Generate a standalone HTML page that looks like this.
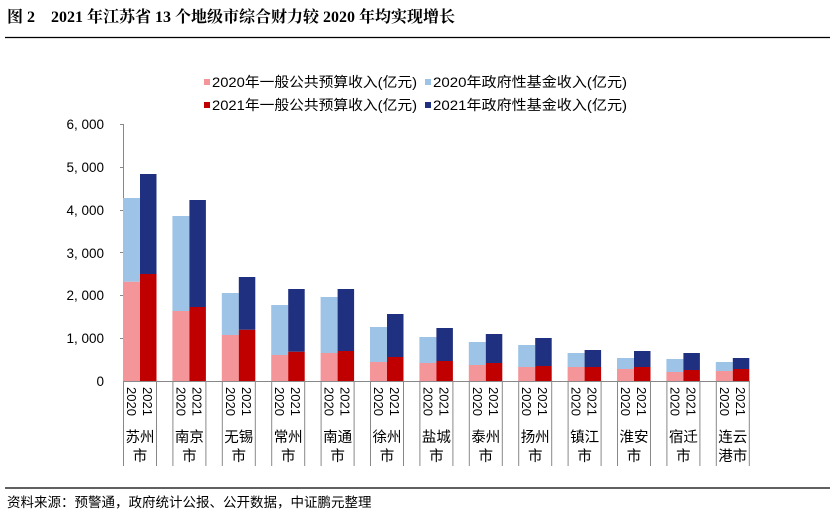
<!DOCTYPE html>
<html><head><meta charset="utf-8"><style>
body{margin:0;background:#fff;}
svg{display:block;}
</style></head><body>
<svg width="835" height="517" xmlns="http://www.w3.org/2000/svg" font-family="Liberation Sans, Noto Sans CJK SC, sans-serif">
<text x="7" y="22" font-family="Liberation Serif, Noto Serif CJK SC, serif" font-weight="bold" font-size="16" fill="#000">图 2　2021 年江苏省 13 个地级市综合财力较 2020 年均实现增长</text>
<line x1="5" y1="37.5" x2="830" y2="37.5" stroke="#000" stroke-width="1.3"/>
<g font-size="14" fill="#000">
<rect x="204" y="79" width="6" height="6" fill="#f4959a"/><text x="212" y="87" textLength="205" lengthAdjust="spacingAndGlyphs">2020年一般公共预算收入(亿元)</text>
<rect x="425" y="79" width="6" height="6" fill="#9dc3e6"/><text x="433" y="87" textLength="194" lengthAdjust="spacingAndGlyphs">2020年政府性基金收入(亿元)</text>
<rect x="204" y="102" width="6" height="6" fill="#c00000"/><text x="212" y="110" textLength="205" lengthAdjust="spacingAndGlyphs">2021年一般公共预算收入(亿元)</text>
<rect x="425" y="102" width="6" height="6" fill="#203080"/><text x="433" y="110" textLength="194" lengthAdjust="spacingAndGlyphs">2021年政府性基金收入(亿元)</text>
</g>
<g font-size="13.5" fill="#000" text-anchor="end">
<text x="104" y="129">6, 000</text><text x="104" y="172">5, 000</text><text x="104" y="215">4, 000</text>
<text x="104" y="258">3, 000</text><text x="104" y="300">2, 000</text><text x="104" y="343">1, 000</text><text x="104" y="386">0</text>
</g>
<line x1="123.5" y1="124" x2="123.5" y2="381" stroke="#888"/>
<g stroke="#888"><line x1="120" y1="124.5" x2="123" y2="124.5"/><line x1="120" y1="167.5" x2="123" y2="167.5"/><line x1="120" y1="210.5" x2="123" y2="210.5"/><line x1="120" y1="252.5" x2="123" y2="252.5"/><line x1="120" y1="295.5" x2="123" y2="295.5"/><line x1="120" y1="338.5" x2="123" y2="338.5"/></g>

<g transform="translate(123,0)"><rect x="0" y="281.7" width="17" height="99.3" fill="#f4959a"/><rect x="0" y="198" width="17" height="83.7" fill="#9dc3e6"/><rect x="17" y="274" width="16.5" height="107" fill="#c00000"/><rect x="17" y="174" width="16.5" height="100" fill="#203080"/></g>
<g transform="translate(172.4,0)"><rect x="0" y="311" width="17" height="70" fill="#f4959a"/><rect x="0" y="216" width="17" height="95" fill="#9dc3e6"/><rect x="17" y="307" width="16.5" height="74" fill="#c00000"/><rect x="17" y="200" width="16.5" height="107" fill="#203080"/></g>
<g transform="translate(221.8,0)"><rect x="0" y="335" width="17" height="46" fill="#f4959a"/><rect x="0" y="293" width="17" height="42" fill="#9dc3e6"/><rect x="17" y="329.7" width="16.5" height="51.3" fill="#c00000"/><rect x="17" y="277" width="16.5" height="52.7" fill="#203080"/></g>
<g transform="translate(271.2,0)"><rect x="0" y="355" width="17" height="26" fill="#f4959a"/><rect x="0" y="305" width="17" height="50" fill="#9dc3e6"/><rect x="17" y="351.7" width="16.5" height="29.3" fill="#c00000"/><rect x="17" y="289" width="16.5" height="62.7" fill="#203080"/></g>
<g transform="translate(320.6,0)"><rect x="0" y="353" width="17" height="28" fill="#f4959a"/><rect x="0" y="297" width="17" height="56" fill="#9dc3e6"/><rect x="17" y="351" width="16.5" height="30" fill="#c00000"/><rect x="17" y="289" width="16.5" height="62" fill="#203080"/></g>
<g transform="translate(370,0)"><rect x="0" y="362" width="17" height="19" fill="#f4959a"/><rect x="0" y="327" width="17" height="35" fill="#9dc3e6"/><rect x="17" y="357" width="16.5" height="24" fill="#c00000"/><rect x="17" y="314" width="16.5" height="43" fill="#203080"/></g>
<g transform="translate(419.4,0)"><rect x="0" y="363" width="17" height="18" fill="#f4959a"/><rect x="0" y="337" width="17" height="26" fill="#9dc3e6"/><rect x="17" y="361" width="16.5" height="20" fill="#c00000"/><rect x="17" y="328" width="16.5" height="33" fill="#203080"/></g>
<g transform="translate(468.8,0)"><rect x="0" y="365" width="17" height="16" fill="#f4959a"/><rect x="0" y="342" width="17" height="23" fill="#9dc3e6"/><rect x="17" y="363" width="16.5" height="18" fill="#c00000"/><rect x="17" y="334" width="16.5" height="29" fill="#203080"/></g>
<g transform="translate(518.2,0)"><rect x="0" y="367" width="17" height="14" fill="#f4959a"/><rect x="0" y="345" width="17" height="22" fill="#9dc3e6"/><rect x="17" y="366" width="16.5" height="15" fill="#c00000"/><rect x="17" y="338" width="16.5" height="28" fill="#203080"/></g>
<g transform="translate(567.6,0)"><rect x="0" y="367" width="17" height="14" fill="#f4959a"/><rect x="0" y="353" width="17" height="14" fill="#9dc3e6"/><rect x="17" y="367" width="16.5" height="14" fill="#c00000"/><rect x="17" y="350" width="16.5" height="17" fill="#203080"/></g>
<g transform="translate(617,0)"><rect x="0" y="369" width="17" height="12" fill="#f4959a"/><rect x="0" y="358" width="17" height="11" fill="#9dc3e6"/><rect x="17" y="367" width="16.5" height="14" fill="#c00000"/><rect x="17" y="351" width="16.5" height="16" fill="#203080"/></g>
<g transform="translate(666.4,0)"><rect x="0" y="372" width="17" height="9" fill="#f4959a"/><rect x="0" y="359" width="17" height="13" fill="#9dc3e6"/><rect x="17" y="370" width="16.5" height="11" fill="#c00000"/><rect x="17" y="353" width="16.5" height="17" fill="#203080"/></g>
<g transform="translate(715.8,0)"><rect x="0" y="371" width="17" height="10" fill="#f4959a"/><rect x="0" y="362" width="17" height="9" fill="#9dc3e6"/><rect x="17" y="369" width="16.5" height="12" fill="#c00000"/><rect x="17" y="358" width="16.5" height="11" fill="#203080"/></g>

<line x1="123" y1="381.5" x2="750" y2="381.5" stroke="#888"/>

<g stroke="#888">
<line x1="123.5" y1="381" x2="123.5" y2="466"/><line x1="156.5" y1="381" x2="156.5" y2="466"/>
<line x1="172.9" y1="381" x2="172.9" y2="466"/><line x1="205.9" y1="381" x2="205.9" y2="466"/>
<line x1="222.3" y1="381" x2="222.3" y2="466"/><line x1="255.3" y1="381" x2="255.3" y2="466"/>
<line x1="271.7" y1="381" x2="271.7" y2="466"/><line x1="304.7" y1="381" x2="304.7" y2="466"/>
<line x1="321.1" y1="381" x2="321.1" y2="466"/><line x1="354.1" y1="381" x2="354.1" y2="466"/>
<line x1="370.5" y1="381" x2="370.5" y2="466"/><line x1="403.5" y1="381" x2="403.5" y2="466"/>
<line x1="419.9" y1="381" x2="419.9" y2="466"/><line x1="452.9" y1="381" x2="452.9" y2="466"/>
<line x1="469.3" y1="381" x2="469.3" y2="466"/><line x1="502.3" y1="381" x2="502.3" y2="466"/>
<line x1="518.7" y1="381" x2="518.7" y2="466"/><line x1="551.7" y1="381" x2="551.7" y2="466"/>
<line x1="568.1" y1="381" x2="568.1" y2="466"/><line x1="601.1" y1="381" x2="601.1" y2="466"/>
<line x1="617.5" y1="381" x2="617.5" y2="466"/><line x1="650.5" y1="381" x2="650.5" y2="466"/>
<line x1="666.9" y1="381" x2="666.9" y2="466"/><line x1="699.9" y1="381" x2="699.9" y2="466"/>
<line x1="716.3" y1="381" x2="716.3" y2="466"/><line x1="749.3" y1="381" x2="749.3" y2="466"/>
</g>

<g font-size="13" fill="#000">
<text transform="translate(127,387) rotate(90)">2020</text><text transform="translate(143,387) rotate(90)">2021</text>
<text transform="translate(176.4,387) rotate(90)">2020</text><text transform="translate(192.4,387) rotate(90)">2021</text>
<text transform="translate(225.8,387) rotate(90)">2020</text><text transform="translate(241.8,387) rotate(90)">2021</text>
<text transform="translate(275.2,387) rotate(90)">2020</text><text transform="translate(291.2,387) rotate(90)">2021</text>
<text transform="translate(324.6,387) rotate(90)">2020</text><text transform="translate(340.6,387) rotate(90)">2021</text>
<text transform="translate(374,387) rotate(90)">2020</text><text transform="translate(390,387) rotate(90)">2021</text>
<text transform="translate(423.4,387) rotate(90)">2020</text><text transform="translate(439.4,387) rotate(90)">2021</text>
<text transform="translate(472.8,387) rotate(90)">2020</text><text transform="translate(488.8,387) rotate(90)">2021</text>
<text transform="translate(522.2,387) rotate(90)">2020</text><text transform="translate(538.2,387) rotate(90)">2021</text>
<text transform="translate(571.6,387) rotate(90)">2020</text><text transform="translate(587.6,387) rotate(90)">2021</text>
<text transform="translate(621,387) rotate(90)">2020</text><text transform="translate(637,387) rotate(90)">2021</text>
<text transform="translate(670.4,387) rotate(90)">2020</text><text transform="translate(686.4,387) rotate(90)">2021</text>
<text transform="translate(719.8,387) rotate(90)">2020</text><text transform="translate(735.8,387) rotate(90)">2021</text>
</g>

<g font-size="14.5" fill="#000" text-anchor="middle">
<text x="140" y="442">苏州</text><text x="140" y="461">市</text>
<text x="189.4" y="442">南京</text><text x="189.4" y="461">市</text>
<text x="238.8" y="442">无锡</text><text x="238.8" y="461">市</text>
<text x="288.2" y="442">常州</text><text x="288.2" y="461">市</text>
<text x="337.6" y="442">南通</text><text x="337.6" y="461">市</text>
<text x="387" y="442">徐州</text><text x="387" y="461">市</text>
<text x="436.4" y="442">盐城</text><text x="436.4" y="461">市</text>
<text x="485.8" y="442">泰州</text><text x="485.8" y="461">市</text>
<text x="535.2" y="442">扬州</text><text x="535.2" y="461">市</text>
<text x="584.6" y="442">镇江</text><text x="584.6" y="461">市</text>
<text x="634" y="442">淮安</text><text x="634" y="461">市</text>
<text x="683.4" y="442">宿迁</text><text x="683.4" y="461">市</text>
<text x="732.8" y="442">连云</text><text x="732.8" y="461">港市</text>
</g>

<line x1="5" y1="488" x2="830" y2="488" stroke="#000" stroke-width="1.3"/>
<text x="7" y="507" font-size="13.5" fill="#000">资料来源：预警通，政府统计公报、公开数据，中证鹏元整理</text>
</svg>
</body></html>
